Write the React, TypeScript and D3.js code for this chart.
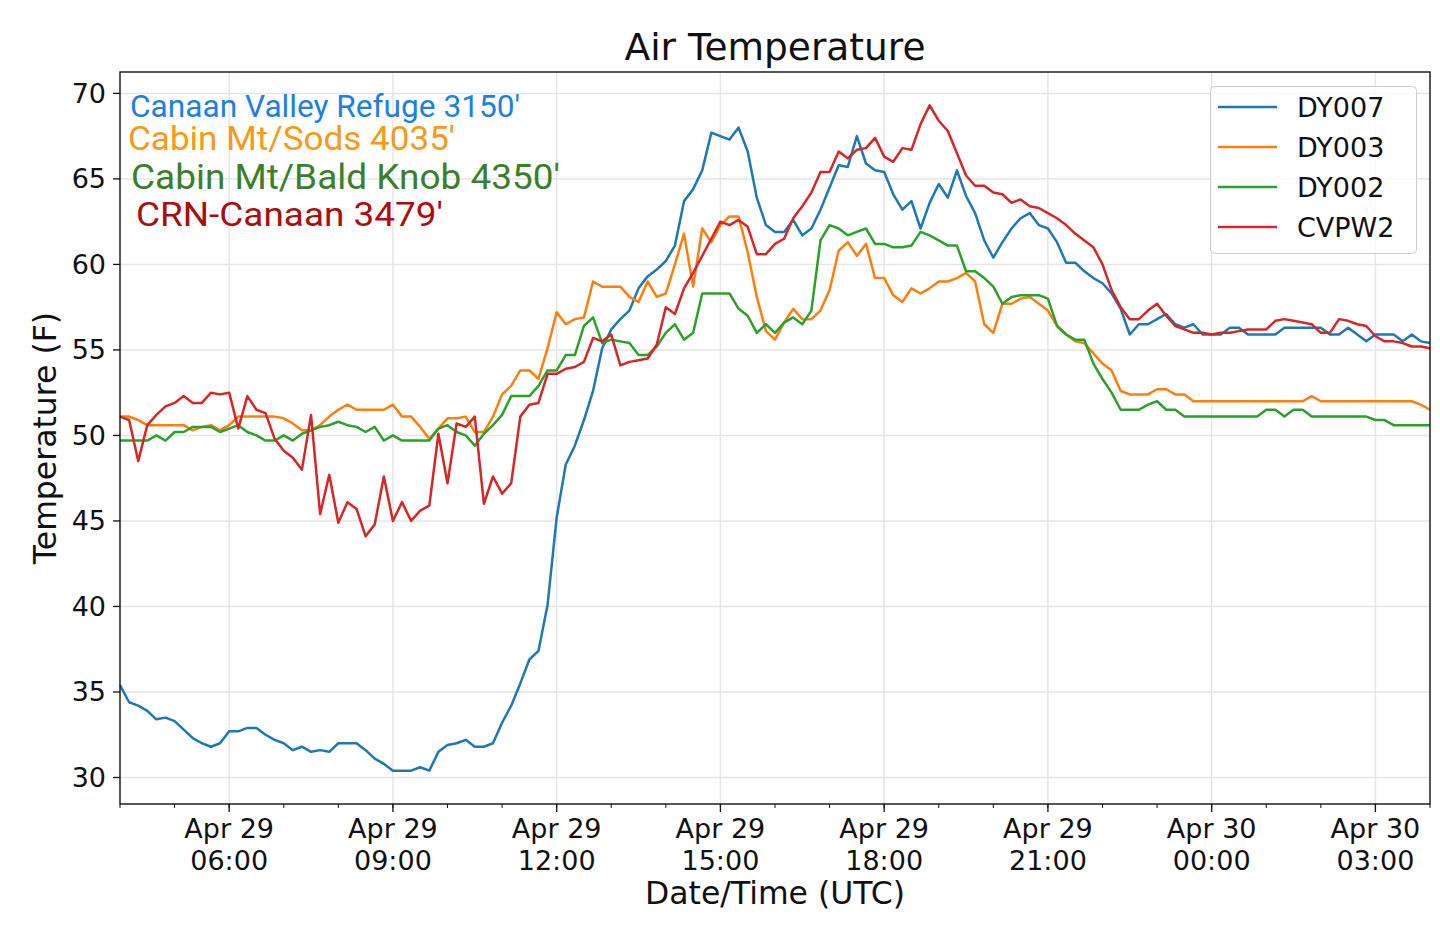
import * as d3 from 'd3';

// 10-minute samples, 04:00 UTC Apr 29 -> 04:00 UTC Apr 30
const startTime = Date.UTC(2019, 3, 29, 4, 0);
const stepMinutes = 10;

const dy007 = [
	35.4, 34.4, 34.2, 33.9, 33.4, 33.5, 33.3, 32.8, 32.3, 32.0,
	31.8, 32.0, 32.7, 32.7, 32.9, 32.9, 32.5, 32.2, 32.0, 31.6,
	31.8, 31.5, 31.6, 31.5, 32.0, 32.0, 32.0, 31.6, 31.1, 30.8,
	30.4, 30.4, 30.4, 30.6, 30.4, 31.5, 31.9, 32.0, 32.2, 31.8,
	31.8, 32.0, 33.2, 34.2, 35.5, 36.9, 37.4, 40.1, 45.2, 48.3,
	49.4, 50.9, 52.6, 55.1, 56.2, 56.8, 57.3, 58.6, 59.3, 59.7,
	60.2, 61.1, 63.7, 64.4, 65.5, 67.7, 67.5, 67.3, 68.0, 66.6,
	63.9, 62.3, 61.9, 61.9, 62.6, 61.7, 62.1, 63.2, 64.5, 65.8,
	65.7, 67.5, 65.9, 65.5, 65.4, 64.1, 63.2, 63.7, 62.1, 63.6,
	64.7, 63.9, 65.5, 64.0, 63.0, 61.4, 60.4, 61.3, 62.1, 62.7,
	63.0, 62.3, 62.1, 61.3, 60.1, 60.1, 59.6, 59.2, 58.9, 58.3,
	57.4, 55.9, 56.5, 56.5, 56.8, 57.1, 56.5, 56.3, 56.5, 55.9,
	55.9, 55.9, 56.3, 56.3, 55.9, 55.9, 55.9, 55.9, 56.3, 56.3,
	56.3, 56.3, 56.3, 55.9, 55.9, 56.3, 55.9, 55.5, 55.9, 55.9,
	55.9, 55.5, 55.9, 55.5, 55.4,
];

const dy003 = [
	51.1, 51.1, 50.9, 50.6, 50.6, 50.6, 50.6, 50.6, 50.3, 50.5,
	50.6, 50.3, 50.6, 51.1, 51.1, 51.1, 51.1, 51.1, 51.0, 50.7,
	50.3, 50.3, 50.6, 51.1, 51.5, 51.8, 51.5, 51.5, 51.5, 51.5,
	51.8, 51.1, 51.1, 50.5, 49.8, 50.4, 51.0, 51.0, 51.1, 50.2,
	50.2, 51.1, 52.4, 52.9, 53.8, 53.8, 53.3, 55.1, 57.2, 56.5,
	56.8, 56.9, 59.0, 58.7, 58.7, 58.7, 58.1, 57.8, 59.0, 58.1,
	58.3, 60.0, 61.8, 58.7, 62.1, 61.3, 62.3, 62.8, 62.8, 60.7,
	58.1, 56.1, 55.6, 56.6, 57.4, 56.8, 56.8, 57.3, 58.5, 60.8,
	61.3, 60.5, 61.2, 59.2, 59.2, 58.2, 57.8, 58.6, 58.3, 58.6,
	59.0, 59.0, 59.2, 59.5, 59.0, 56.5, 56.0, 57.7, 57.7, 58.0,
	58.1, 57.7, 57.3, 56.4, 55.9, 55.5, 55.4, 54.8, 54.2, 53.8,
	52.6, 52.4, 52.4, 52.4, 52.7, 52.7, 52.4, 52.4, 52.0, 52.0,
	52.0, 52.0, 52.0, 52.0, 52.0, 52.0, 52.0, 52.0, 52.0, 52.0,
	52.0, 52.3, 52.0, 52.0, 52.0, 52.0, 52.0, 52.0, 52.0, 52.0,
	52.0, 52.0, 52.0, 51.8, 51.5,
];

const dy002 = [
	49.7, 49.7, 49.7, 49.7, 50.0, 49.7, 50.2, 50.2, 50.5, 50.5,
	50.5, 50.2, 50.4, 50.6, 50.2, 50.0, 49.7, 49.7, 50.0, 49.7,
	50.1, 50.3, 50.5, 50.6, 50.8, 50.6, 50.5, 50.2, 50.5, 49.7,
	50.0, 49.7, 49.7, 49.7, 49.7, 50.4, 50.6, 50.2, 50.0, 49.4,
	50.1, 50.6, 51.2, 52.3, 52.3, 52.3, 52.9, 53.8, 53.8, 54.7,
	54.7, 56.4, 56.9, 55.4, 55.6, 55.5, 55.4, 54.7, 54.7, 55.2,
	56.0, 56.5, 55.6, 56.0, 58.3, 58.3, 58.3, 58.3, 57.4, 57.0,
	56.0, 56.5, 56.0, 56.6, 56.9, 56.5, 57.3, 61.4, 62.3, 62.1,
	61.7, 61.9, 62.1, 61.2, 61.2, 61.0, 61.0, 61.1, 61.9, 61.7,
	61.4, 61.1, 61.1, 59.6, 59.6, 59.2, 58.7, 57.7, 58.1, 58.2,
	58.2, 58.2, 58.0, 56.4, 55.9, 55.6, 55.6, 54.2, 53.3, 52.5,
	51.5, 51.5, 51.5, 51.8, 52.0, 51.5, 51.5, 51.1, 51.1, 51.1,
	51.1, 51.1, 51.1, 51.1, 51.1, 51.1, 51.5, 51.5, 51.1, 51.5,
	51.5, 51.1, 51.1, 51.1, 51.1, 51.1, 51.1, 51.1, 50.9, 50.9,
	50.6, 50.6, 50.6, 50.6, 50.6,
];

const cvpw2 = [
	51.1, 50.9, 48.5, 50.6, 51.2, 51.7, 51.9, 52.3, 51.9, 51.9,
	52.5, 52.4, 52.5, 50.4, 52.3, 51.5, 51.3, 49.8, 49.1, 48.7,
	48.0, 51.2, 45.4, 47.7, 44.9, 46.1, 45.7, 44.1, 44.8, 47.6,
	45.0, 46.1, 45.0, 45.6, 45.9, 50.1, 47.2, 50.7, 50.5, 51.1,
	46.0, 47.6, 46.6, 47.2, 51.1, 51.8, 51.9, 53.6, 53.6, 53.9,
	54.0, 54.3, 55.7, 55.5, 55.9, 54.1, 54.3, 54.4, 54.5, 55.3,
	57.5, 57.1, 58.6, 59.5, 60.5, 61.5, 62.5, 62.3, 62.6, 62.2,
	60.6, 60.6, 61.2, 61.5, 62.7, 63.4, 64.2, 65.4, 65.4, 66.6,
	66.2, 66.7, 66.8, 67.4, 66.3, 66.0, 66.8, 66.7, 68.2, 69.3,
	68.4, 67.8, 66.5, 65.2, 64.6, 64.6, 64.2, 64.1, 63.6, 63.8,
	63.4, 63.3, 63.0, 62.7, 62.3, 61.8, 61.4, 61.0, 60.0, 58.5,
	57.5, 56.8, 56.8, 57.3, 57.7, 57.0, 56.4, 56.2, 56.0, 56.0,
	55.9, 56.0, 56.0, 56.1, 56.2, 56.2, 56.2, 56.7, 56.8, 56.7,
	56.6, 56.5, 56.0, 56.0, 56.8, 56.7, 56.5, 56.4, 55.8, 55.5,
	55.5, 55.4, 55.2, 55.2, 55.1,
];

const seriesNames = ['DY007', 'DY003', 'DY002', 'CVPW2'];
const seriesValues = [dy007, dy003, dy002, cvpw2];
const seriesColors = ['#1f77b4', '#ff7f0e', '#2ca02c', '#d62728'];

const stationLabels = [
	"Canaan Valley Refuge 3150'",
	"Cabin Mt/Sods 4035'",
	"Cabin Mt/Bald Knob 4350'",
	"CRN-Canaan 3479'",
];
const stationColors = ['#1b7fe6', '#f59a1a', '#3a7f2c', '#a90d0d'];

const yTicks = [30, 35, 40, 45, 50, 55, 60, 65, 70];

const svgWidth = 1440,
	svgHeight = 934;
const plot = { left: 120, right: 1430, top: 72, bottom: 804 };
const axisFont = '"DejaVu Sans", sans-serif';

// station labels: left x, baseline y, font size, drawn width
const stationLayout = [
	{ x: 130, y: 117, size: 31, width: 390 },
	{ x: 128, y: 150, size: 33, width: 327 },
	{ x: 131, y: 189, size: 35, width: 429 },
	{ x: 136, y: 226, size: 34, width: 307 },
];

export default function App() {
	const xScale = d3
		.scaleUtc()
		.domain([new Date(startTime), new Date(startTime + 24 * 3600 * 1000)])
		.range([plot.left, plot.right]);
	const yScale = d3
		.scaleLinear()
		.domain([28.45, 71.25])
		.range([plot.bottom, plot.top]);

	const timeAt = (i: number) => new Date(startTime + i * stepMinutes * 60000);
	const lineGenerator = d3
		.line<number>()
		.x((_, i) => xScale(timeAt(i)))
		.y((d) => yScale(d));

	const majorTicks = xScale.ticks(d3.utcHour.every(3)!);
	const minorTicks = xScale.ticks(d3.utcHour.every(1)!);
	const fmtDay = d3.utcFormat('%b %d');
	const fmtTime = d3.utcFormat('%H:%M');

	return (
		<svg
			width={svgWidth}
			height={svgHeight}
			viewBox={`0 0 ${svgWidth} ${svgHeight}`}
			style={{ position: 'absolute', left: 0, top: 0, background: 'white' }}
		>
			<rect width={svgWidth} height={svgHeight} fill="white" />

			{/* grid */}
			<g stroke="#e6e6e6" strokeWidth={1.5}>
				{majorTicks.map((d) => (
					<line key={+d} x1={xScale(d)} x2={xScale(d)} y1={plot.top} y2={plot.bottom} />
				))}
				{yTicks.map((d) => (
					<line key={d} x1={plot.left} x2={plot.right} y1={yScale(d)} y2={yScale(d)} />
				))}
			</g>

			{/* series */}
			<g fill="none" strokeWidth={2.5} strokeLinejoin="round">
				{seriesValues.map((vals, k) => (
					<path key={seriesNames[k]} d={lineGenerator(vals)!} stroke={seriesColors[k]} />
				))}
			</g>

			{/* station annotations */}
			<g fontFamily="Roboto, sans-serif">
				{stationLabels.map((label, k) => (
					<text
						key={label}
						x={stationLayout[k].x}
						y={stationLayout[k].y}
						fontSize={stationLayout[k].size}
						textLength={stationLayout[k].width}
						lengthAdjust="spacingAndGlyphs"
						fill={stationColors[k]}
					>
						{label}
					</text>
				))}
			</g>

			{/* legend */}
			<g fontFamily={axisFont}>
				<rect x={1210.5} y={86.5} width={206} height={167} rx={4} fill="white" fillOpacity={0.8} stroke="#cccccc" />
				{seriesNames.map((name, k) => (
					<g key={name} transform={`translate(1218, ${107 + k * 40})`}>
						<line x1={0} x2={59} y1={0} y2={0} stroke={seriesColors[k]} strokeWidth={2.5} />
						<text x={79} y={0} fontSize={27} dominantBaseline="central" fill="#111">
							{name}
						</text>
					</g>
				))}
			</g>

			{/* frame */}
			<rect
				x={plot.left}
				y={plot.top}
				width={plot.right - plot.left}
				height={plot.bottom - plot.top}
				fill="none"
				stroke="#111"
				strokeWidth={1.4}
			/>

			{/* left axis */}
			<g fontFamily={axisFont} fontSize={27} fill="#111">
				{yTicks.map((d) => (
					<g key={d} transform={`translate(0, ${yScale(d)})`}>
						<line x1={plot.left - 7} x2={plot.left} stroke="#111" strokeWidth={1.3} />
						<text x={plot.left - 14} textAnchor="end" dominantBaseline="central">
							{d}
						</text>
					</g>
				))}
				<text
					transform={`translate(56, ${(plot.top + plot.bottom) / 2}) rotate(-90)`}
					textAnchor="middle"
					fontSize={31.5}
				>
					Temperature (F)
				</text>
			</g>

			{/* bottom axis */}
			<g fontFamily={axisFont} fontSize={27} fill="#111">
				{minorTicks.map((d) => (
					<line
						key={+d}
						x1={xScale(d)}
						x2={xScale(d)}
						y1={plot.bottom}
						y2={plot.bottom + 4}
						stroke="#111"
						strokeWidth={1}
					/>
				))}
				{majorTicks.map((d) => (
					<g key={+d} transform={`translate(${xScale(d)}, ${plot.bottom})`}>
						<line y1={0} y2={8} stroke="#111" strokeWidth={1.3} />
						<text y={34} textAnchor="middle">
							{fmtDay(d)}
						</text>
						<text y={66} textAnchor="middle">
							{fmtTime(d)}
						</text>
					</g>
				))}
				<text x={(plot.left + plot.right) / 2} y={904} textAnchor="middle" fontSize={31.5}>
					Date/Time (UTC)
				</text>
			</g>

			<text
				x={(plot.left + plot.right) / 2}
				y={60}
				textAnchor="middle"
				fontFamily={axisFont}
				fontSize={37.5}
				fill="#111"
			>
				Air Temperature
			</text>
		</svg>
	);
}
